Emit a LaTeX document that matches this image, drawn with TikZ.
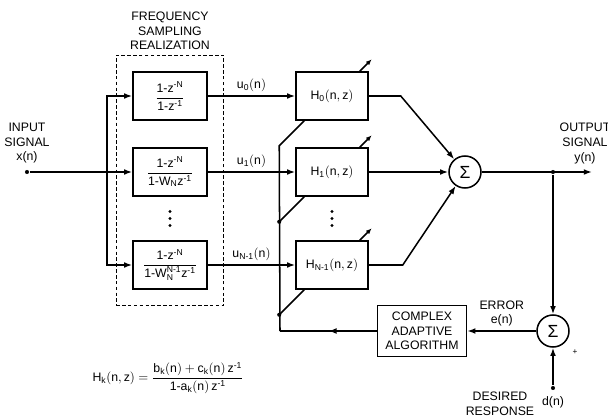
\documentclass[tikz,border=0pt]{standalone}
\usepackage{amsmath}
\usepackage{fontspec}
\setmainfont{Liberation Sans}
\setsansfont{Liberation Sans}
\usetikzlibrary{arrows.meta,calc,fit,positioning}
\newcommand{\mns}{\text{-}}

\begin{document}
\begin{tikzpicture}[x=0.03cm,y=-0.03cm,>={Latex[length=7pt,width=5pt]},line width=1.3pt,
    font=\fontsize{10.5}{12.5}\selectfont,every node/.style={align=center},
    filt/.style={draw,minimum width=2.22cm,minimum height=1.44cm,inner sep=1pt},
    hbox/.style={draw,minimum width=2.16cm,minimum height=1.44cm},
    sumnode/.style={draw,circle,minimum size=0.96cm,inner sep=0pt,font=\fontsize{15}{15}\selectfont},
    dot/.style={circle,fill,inner sep=0pt,minimum size=3.5pt},
    smalldot/.style={circle,fill,inner sep=0pt,minimum size=2.6pt}]
        \useasboundingbox (0,0) rectangle (608,417);
        % frequency sampling bank
        \node[filt] (f0) at (170,96) {$\dfrac{\mathrm{1\mns z^{\mns N}}}{\mathrm{1\mns z^{\mns 1}}}$};
        \node[filt] (f1) at (170,172) {$\dfrac{\mathrm{1\mns z^{\mns N}}}{\mathrm{1\mns W_N z^{\mns 1}}}$};
        \node[filt] (fN) at (170,265) {$\dfrac{\mathrm{1\mns z^{\mns N}}}{\mathrm{1\mns W_N^{N\mns 1} z^{\mns 1}}}$};
        \coordinate (fdots) at ($(f1.south)!0.5!(fN.north)$);
        \node[draw,dash pattern=on 3pt off 2pt,line width=0.9pt,fit=(f0)(fN),inner sep=0.48cm,
          label={[name=title]above:{FREQUENCY\\SAMPLING\\REALIZATION}}] (fsr) {};
        % adaptive sections
        \node[hbox] (h0) at (332,96) {$\mathrm{H_0(n,z)}$};
        \node[hbox] (h1) at (332,172) {$\mathrm{H_1(n,z)}$};
        \node[hbox] (hN) at (332,265) {$\mathrm{H_{N\mns 1}(n,z)}$};
        \coordinate (hdots) at ($(h1.south)!0.5!(hN.north)$);
        \foreach \k in {-1,0,1} {
          \node[smalldot] (fd\k) at ($(fdots)+(0,7*\k)$) {};
          \node[smalldot] (hd\k) at ($(hdots)+(0,7*\k)$) {};
        }
        \node[sumnode] (sum) at (465,172) {Σ};
        \node[draw,minimum width=2.67cm,minimum height=1.53cm] (alg) at (422,331) {COMPLEX\\ADAPTIVE\\ALGORITHM};
        \node[sumnode] (esum) at (553,331) {Σ};
        % signals
        \node[dot] (xin) at (27,172) {};
        \node[above=1pt of xin] (inlab) {INPUT\\SIGNAL\\x(n)};
        \coordinate (bus) at (107,172);
        \node[dot] (ydot) at (553,172) {};
        \coordinate (yout) at (592,172);
        \node[above=3pt] (outlab) at (585,172) {OUTPUT\\SIGNAL\\y(n)};
        \node[dot] (dn) at (553,388) {};
        \node[below=1pt of dn] (dlab) {d(n)};
        \node (deslab) at (500,404) {DESIRED\\RESPONSE};
        \node[font=\scriptsize] (plus) at (575,352) {+};
        \node (hk) at (168,378) {$\mathrm{H_k(n,z)}=\dfrac{\mathrm{b_k(n)+c_k(n)\,z^{\mns 1}}}{\mathrm{1\mns a_k(n)\,z^{\mns 1}}}$};
        % connections
        \draw[->] (xin) -- (f1);
        \draw[->] (bus) |- (f0);
        \draw[->] (bus) |- (fN);
        \draw[->] (f0) -- node[above]{$\mathrm{u_0(n)}$} (h0);
        \draw[->] (f1) -- node[above]{$\mathrm{u_1(n)}$} (h1);
        \draw[->] (fN) -- node[above]{$\mathrm{u_{N\mns 1}(n)}$} (hN);
        \draw[->] (h0.east) -- ++(32,0) -- (sum);
        \draw[->] (h1) -- (sum);
        \draw[->] (hN.east) -- ++(34,0) -- (sum);
        \draw[->] (sum) -- (yout);
        \draw[->] (ydot) -- (esum);
        \draw[->] (dn) -- (esum);
        \draw[->] (esum) -- node[above]{ERROR\\e(n)} (alg);
        % feedback to the coefficients
        \coordinate (fb) at (280,331);
        \draw (alg) -- (fb);
        \draw[->] (alg.west) -- ($(alg.west)!0.5!(fb)$);
        \draw ($(h0.south west)+(9,0)$) -- ++(-25,25) -- (fb);
        \draw ($(h1.south west)+(9,0)$) -- ++(-25,25) node[dot] (j1) {};
        \draw ($(hN.south west)+(9,0)$) -- ++(-25,25) node[dot] (jN) {};
        \foreach \h in {h0,h1,hN}
          \draw[-{Latex[length=5pt,width=4pt]}] ($(\h.north east)+(-9,0)$) -- ++(12,-12);
      \end{tikzpicture}
\end{document}
